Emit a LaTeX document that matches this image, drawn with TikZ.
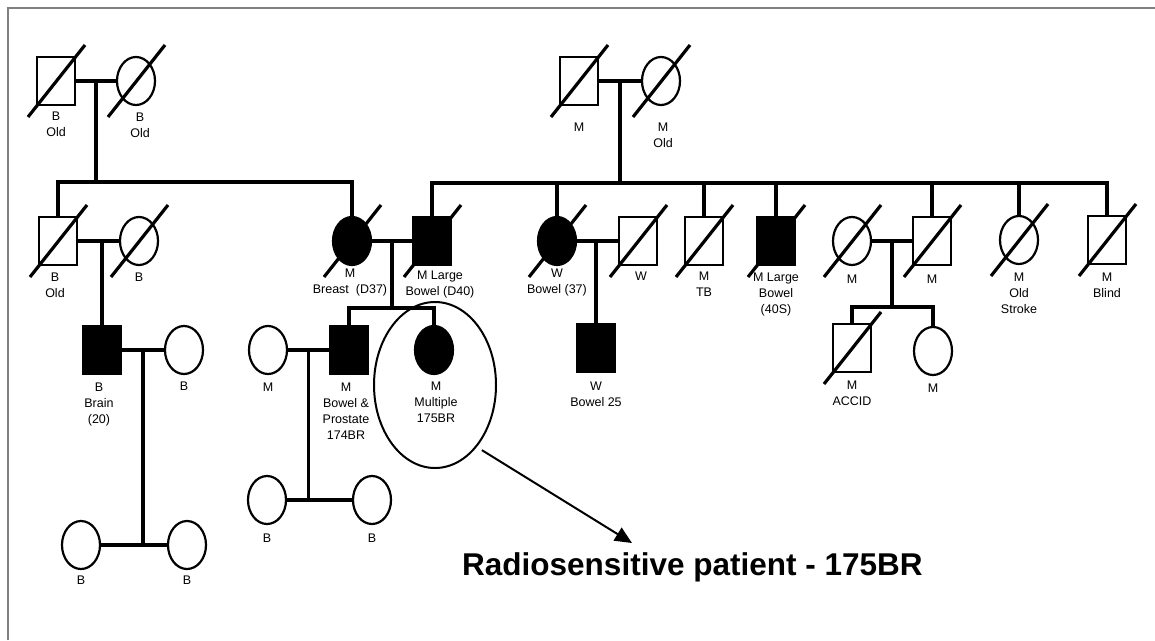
\documentclass[tikz,border=0pt]{standalone}
\usepackage{fontspec}
\setmainfont{Liberation Sans}
\usetikzlibrary{arrows.meta,positioning,calc,shapes.geometric}

\begin{document}
\begin{tikzpicture}[x=1pt,y=-1pt,node distance=7pt,
 male/.style={draw,line width=2.2pt,minimum width=38pt,minimum height=48pt,inner sep=0pt},
 female/.style={ellipse,draw,line width=2.2pt,minimum width=38pt,minimum height=48pt,inner sep=0pt},
 aff/.style={fill=black},
 rel/.style={line width=3.2pt},
 gone/.style={line width=3.2pt},
 txt/.style={align=center,inner sep=0pt,font=\fontsize{12.5}{16}\selectfont},
 pointer/.style={line width=2pt,-{Triangle[length=17pt,width=15pt]}}]
\useasboundingbox (0,0) rectangle (1155,640);
\draw[gray,line width=2pt] (8,640) -- (8,8) -- (1155,8);
% generation I
\node[male] (gf1) at (56,81) {};
\node[female] (gm1) at (136,81) {};
\node[male] (mgf) at (579,81) {};
\node[female] (mgm) at (661,81) {};
% generation II
\node[male] (uncle) at (58,241) {};
\node[female] (aunt) at (139,241) {};
\node[female,aff] (mum) at (352,241) {};
\node[male,aff] (dad) at (432,241) {};
\node[female,aff] (aunt2) at (557,241) {};
\node[male] (husb) at (638,241) {};
\node[male] (tb) at (704,241) {};
\node[male,aff] (lbb) at (776,241) {};
\node[female] (wife2) at (852,241) {};
\node[male] (son) at (932,241) {};
\node[female] (stroke) at (1019,240) {};
\node[male] (blind) at (1107,240) {};
% generation III
\node[male,aff] (brain) at (102,350) {};
\node[female] (bwife) at (184,350) {};
\node[female] (mw) at (268,350) {};
\node[male,aff] (bp) at (349,350) {};
\node[female,aff] (pat) at (434,350) {};
\node[male,aff] (wchild) at (596,348) {};
\node[male] (accid) at (852,348) {};
\node[female] (mchild) at (933,351) {};
% generation IV
\node[female] (b1) at (81,545) {};
\node[female] (b2) at (187,545) {};
\node[female] (b3) at (267,500) {};
\node[female] (b4) at (372,500) {};
\node[ellipse,draw,line width=2pt,minimum width=122pt,minimum height=166pt] (ring) at (435,385) {};

% labels
\node[txt,below=6pt of gf1] (gf1t) {B\\Old};
\node[txt,below=7pt of gm1,xshift=4pt] (gm1t) {B\\Old};
\node[txt,below=17pt of mgf] (mgft) {M};
\node[txt,below=17pt of mgm,xshift=2pt] (mgmt) {M\\Old};
\node[txt,below=of uncle,xshift=-3pt] (unclet) {B\\Old};
\node[txt,below=of aunt] (auntt) {B};
\node[txt,below=3pt of mum,xshift=-2pt] (mumt) {M\\Breast\ \ (D37)};
\node[txt,below=5pt of dad,xshift=8pt] (dadt) {M Large\\Bowel (D40)};
\node[txt,below=3pt of aunt2] (aunt2t) {W\\Bowel (37)};
\node[txt,below=6pt of husb,xshift=3pt] (husbt) {W};
\node[txt,below=6pt of tb] (tbt) {M\\TB};
\node[txt,below=of lbb] (lbbt) {M Large\\Bowel\\(40S)};
\node[txt,below=9pt of wife2] (wife2t) {M};
\node[txt,below=9pt of son] (sont) {M};
\node[txt,below=8pt of stroke] (stroket) {M\\Old\\Stroke};
\node[txt,below=8pt of blind] (blindt) {M\\Blind};
\node[txt,below=8pt of brain,xshift=-3pt] (braint) {B\\Brain\\(20)};
\node[txt,below=of bwife] (bwifet) {B};
\node[txt,below=8pt of mw] (mwt) {M};
\node[txt,below=8pt of bp,xshift=-3pt] (bpt) {M\\Bowel \&\\Prostate\\174BR};
\node[txt,below=of pat,xshift=2pt] (patt) {M\\Multiple\\175BR};
\node[txt,below=9pt of wchild] (wchildt) {W\\Bowel 25};
\node[txt,below=8pt of accid] (accidt) {M\\ACCID};
\node[txt,below=8pt of mchild] (mchildt) {M};
\node[txt,below=6pt of b1] (b1t) {B};
\node[txt,below=6pt of b2] (b2t) {B};
\node[txt,below=9pt of b3] (b3t) {B};
\node[txt,below=9pt of b4] (b4t) {B};
\node[anchor=base west,inner sep=0pt,font=\fontsize{31.5}{36}\selectfont\bfseries] (title) at (462,575) {Radiosensitive patient - 175BR};
\coordinate (tip) at (632,543);

% unions and sibships
\coordinate (u1) at ($(gf1)!.5!(gm1)$); \coordinate (k1) at (u1 |- 0,182);
\coordinate (u2) at ($(mgf)!.5!(mgm)$); \coordinate (k2) at (u2 |- 0,183);
\coordinate (u3) at ($(uncle)!.5!(aunt)$);
\coordinate (u4) at ($(mum)!.5!(dad)$); \coordinate (k4) at (u4 |- 0,308);
\coordinate (u5) at ($(aunt2)!.5!(husb)$);
\coordinate (u6) at ($(wife2)!.5!(son)$); \coordinate (k6) at (u6 |- 0,307);
\coordinate (u7) at ($(brain)!.5!(bwife)$);
\coordinate (u8) at ($(mw)!.5!(bp)$);
\draw[rel] (gf1) -- (gm1); \draw[rel] (u1) -- (k1);
\draw[rel] (uncle) |- (k1) -| (mum);
\draw[rel] (mgf) -- (mgm); \draw[rel] (u2) -- (k2);
\draw[rel] (dad) |- (k2) -| (blind);
\foreach \c in {aunt2,tb,lbb,son,stroke} \draw[rel] (\c) -- (\c |- k2);
\draw[rel] (uncle) -- (aunt); \draw[rel] (brain |- u3) -- (brain);
\draw[rel] (mum) -- (dad); \draw[rel] (u4) -- (k4);
\draw[rel] (bp) |- (k4) -| (pat);
\draw[rel] (aunt2) -- (husb); \draw[rel] (wchild |- u5) -- (wchild);
\draw[rel] (wife2) -- (son); \draw[rel] (u6) -- (k6);
\draw[rel] (accid) |- (k6) -| (mchild);
\draw[rel] (brain) -- (bwife); \draw[rel] (u7) -- (u7 |- b1); \draw[rel] (b1) -- (b2);
\draw[rel] (mw) -- (bp); \draw[rel] (u8) -- (u8 |- b3); \draw[rel] (b3) -- (b4);
% deceased
\foreach \n in {gf1,gm1,mgf,mgm,uncle,aunt,mum,dad,aunt2,husb,tb,lbb,wife2,son,stroke,blind,accid}
  \draw[gone] ($(\n)+(-28,36)$) -- ($(\n)+(29,-36)$);
\draw[pointer,shorten <=6pt] (ring.-56) -- (tip);
\end{tikzpicture}
\end{document}
